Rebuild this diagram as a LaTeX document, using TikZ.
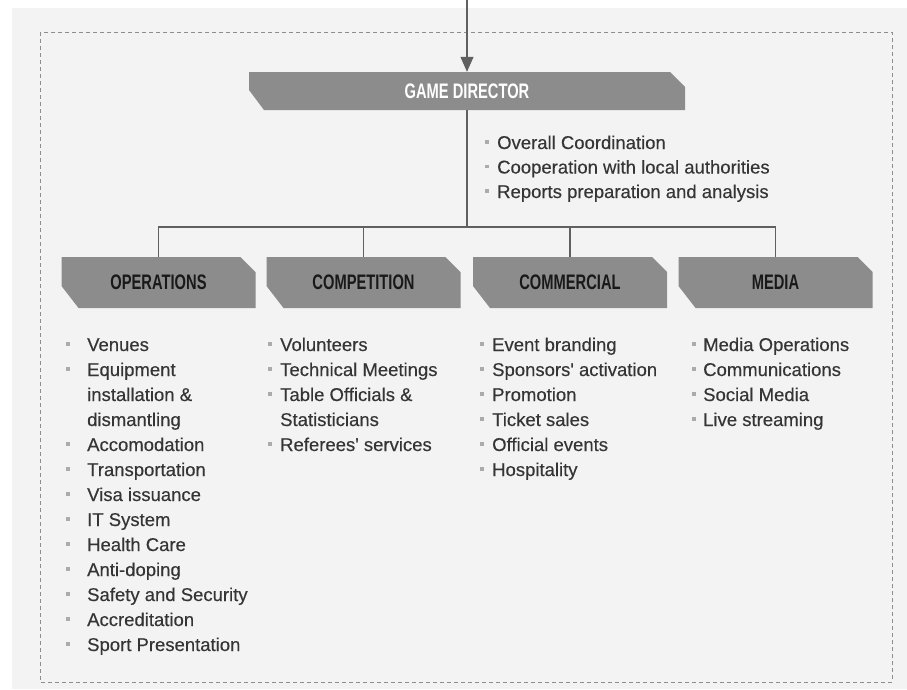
\documentclass[tikz,border=0pt]{standalone}
\usepackage{fontspec}
\setmainfont{Liberation Sans}[FakeBold=0.4]
\newfontfamily\bodyfont{Liberation Sans}[FakeBold=0.35]
\newfontfamily\hdrfont{Liberation Sans}[FakeStretch=0.7]
\usetikzlibrary{arrows.meta,calc}
\definecolor{bgc}{HTML}{F3F3F3}
\definecolor{hdr}{HTML}{8C8C8C}
\definecolor{txt}{HTML}{353535}
\definecolor{bul}{HTML}{ABABAB}
\definecolor{lnc}{HTML}{606060}
\definecolor{dsh}{HTML}{8E8E8E}
\newcommand\blt[1]{\makebox[#1][l]{\textcolor{bul}{\rule[0.28em]{4pt}{3.5pt}}}}
\begin{document}
\begin{tikzpicture}[x=1pt,y=-1pt,
  conn/.style={draw=lnc,line width=1.1pt},
  item/.style={anchor=base west,inner sep=0pt,font=\bodyfont\fontsize{18.5}{25}\selectfont,text=txt},
  hdrbox/.style n args={4}{minimum width=#1,minimum height=#2,inner sep=0pt,
    path picture={\fill[hdr] (path picture bounding box.north west)
      -- ($(path picture bounding box.north east)+(-#3,0pt)$)
      -- ($(path picture bounding box.north east)+(0pt,-#3)$)
      -- (path picture bounding box.south east)
      -- ($(path picture bounding box.south west)+(#4,0pt)$)
      -- ($(path picture bounding box.south west)+(0pt,#4+5pt)$) -- cycle;}},
  subhdr/.style={hdrbox={194pt}{51pt}{15pt}{17pt},font=\hdrfont\bfseries\fontsize{21}{22}\selectfont,text=black!90},
  dirhdr/.style={hdrbox={436pt}{38pt}{15pt}{15pt},font=\hdrfont\bfseries\fontsize{21}{22}\selectfont,text=white}]
\useasboundingbox (0,0) rectangle (907,689);
\fill[bgc] (12,8) rectangle (907,689);
\draw[dsh,line width=1pt,dash pattern=on 4pt off 3pt] (40,32) rectangle (892,682);

\coordinate (top) at (467,0);
\node[dirhdr] (dir) at (467,91) {GAME DIRECTOR};
\node[subhdr] (ops) at (158.5,282.5) {OPERATIONS};
\node[subhdr] (comp) at (363.5,282.5) {COMPETITION};
\node[subhdr] (comm) at (570,282.5) {COMMERCIAL};
\node[subhdr] (media) at (775.5,282.5) {MEDIA};
\coordinate (j) at (467,227);

\draw[conn,-{Triangle[length=15pt,width=13pt]}] (top) -- (dir.north);
\draw[conn] (dir.south) -- (j);
\draw[conn] (j) -| (ops.north);
\draw[conn] (j) -| (comp.north);
\draw[conn] (j) -| (comm.north);
\draw[conn] (j) -| (media.north);

\foreach \t [count=\i] in {Overall Coordination, Cooperation with local authorities, Reports preparation and analysis}
  \node[item] (d\i) at (485,{124.5+24.5*\i}) {\blt{12pt}\t};

\foreach \b/\t [count=\i] in {1/Venues, 1/Equipment, 0/installation \&, 0/dismantling, 1/Accomodation, 1/Transportation, 1/Visa issuance, 1/IT System, 1/Health Care, 1/Anti-doping, 1/Safety and Security, 1/Accreditation, 1/Sport Presentation}
  \node[item] (o\i) at (66,{326+25*\i}) {\ifnum\b=1 \blt{21pt}\else\hspace*{21pt}\fi\t};

\foreach \b/\t [count=\i] in {1/Volunteers, 1/Technical Meetings, 1/Table Officials \&, 0/Statisticians, 1/Referees' services}
  \node[item] (c\i) at (268,{326+25*\i}) {\ifnum\b=1 \blt{12pt}\else\hspace*{12pt}\fi\t};

\foreach \t [count=\i] in {Event branding, Sponsors' activation, Promotion, Ticket sales, Official events, Hospitality}
  \node[item] (m\i) at (480,{326+25*\i}) {\blt{12pt}\t};

\foreach \t [count=\i] in {Media Operations, Communications, Social Media, Live streaming}
  \node[item] (e\i) at (692,{326+25*\i}) {\blt{11pt}\t};
\end{tikzpicture}
\end{document}
